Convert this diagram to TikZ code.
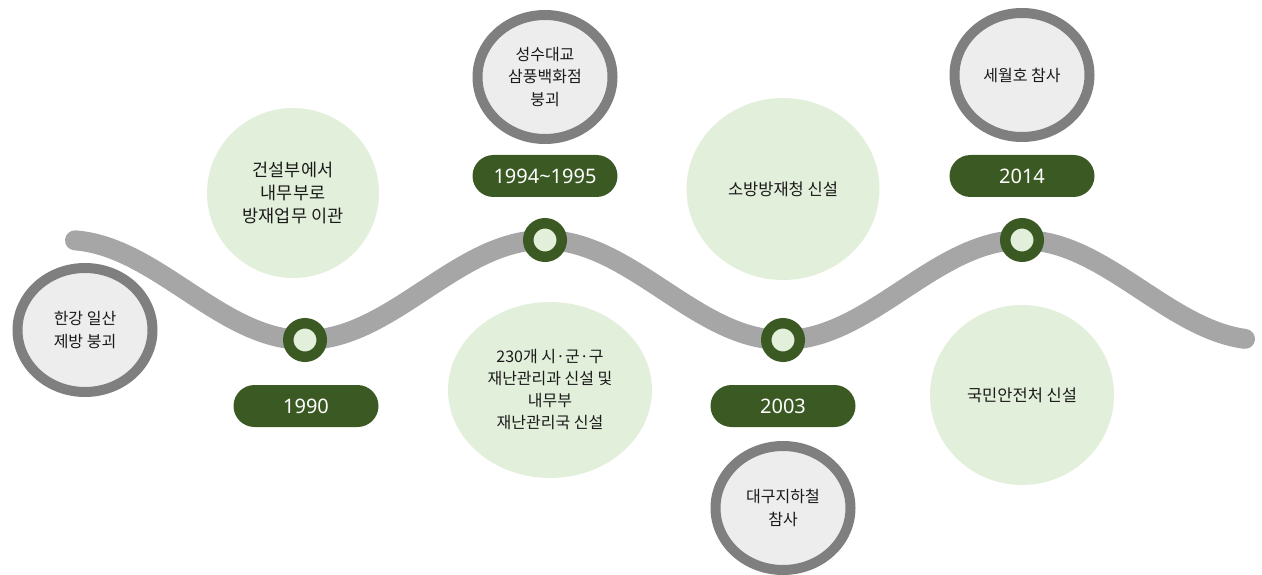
\documentclass[tikz,border=0pt]{standalone}
\usepackage{fontspec}
\setmainfont{Noto Sans CJK KR}
\newfontfamily\numfont{Noto Sans}
\usetikzlibrary{shapes.geometric}
\definecolor{dgreen}{HTML}{3B5A23}
\definecolor{lgreen}{HTML}{E2EFDA}
\definecolor{curvegray}{HTML}{A6A6A6}
\definecolor{ringgray}{HTML}{7F7F7F}
\definecolor{fillgray}{HTML}{EDEDED}
\definecolor{txt}{HTML}{1A1A1A}
\begin{document}
\begin{tikzpicture}[x=1pt,y=1pt,
  blob/.style={ellipse, fill=lgreen, inner sep=0pt, align=center, text=txt,
    font=\fontsize{16}{22}\selectfont},
  event/.style={ellipse, draw=ringgray, line width=10pt, fill=fillgray,
    minimum width=135pt, minimum height=124pt, inner sep=0pt, align=center, text=txt,
    font=\fontsize{16}{22.5}\selectfont},
  marker/.style={circle, draw=dgreen, fill=lgreen, line width=10.5pt,
    minimum size=33.5pt, inner sep=0pt},
  pill/.style={rectangle, rounded corners=21pt, fill=dgreen, text=white,
    minimum width=145pt, minimum height=42pt, inner sep=0pt,
    font=\numfont\fontsize{20}{24}\selectfont},
  curve/.style={draw=curvegray, line width=20pt, line cap=round}]
\useasboundingbox (0,0) rectangle (1262,-575);
% green blobs
\node[blob, minimum width=172pt, minimum height=170pt, font=\fontsize{17.5}{23}\selectfont] (b1) at (293,-193) {건설부에서\\내무부로\\방재업무 이관};
\node[blob, minimum width=204pt, minimum height=176pt] (b2) at (550,-390) {230개 시·군·구\\재난관리과 신설 및\\내무부\\재난관리국 신설};
\node[blob, minimum width=193pt, minimum height=182pt, font=\fontsize{16.5}{22}\selectfont] (b3) at (783,-189) {소방방재청 신설};
\node[blob, minimum width=184pt, minimum height=180pt, font=\fontsize{16.5}{22}\selectfont] (b4) at (1022,-395) {국민안전처 신설};
% timeline curve
\draw[curve] plot[domain=75:1245,samples=240,smooth] (\x,{-290+50*cos((\x-66)/239*180)});
% markers
\node[marker] (m1) at (305,-340) {};
\node[marker] (m2) at (545,-240) {};
\node[marker] (m3) at (783,-340) {};
\node[marker] (m4) at (1022,-240) {};
% events
\node[event] (e1) at (85,-330) {한강 일산\\제방 붕괴};
\node[event] (e2) at (545,-77) {성수대교\\삼풍백화점\\붕괴};
\node[event] (e3) at (783,-508) {대구지하철\\참사};
\node[event] (e4) at (1022,-75) {세월호 참사};
% year pills
\node[pill] (y1) at (306,-406) {1990};
\node[pill] (y2) at (545,-176) {1994\textasciitilde1995};
\node[pill] (y3) at (783,-406) {2003};
\node[pill] (y4) at (1022,-176) {2014};
\end{tikzpicture}
\end{document}
